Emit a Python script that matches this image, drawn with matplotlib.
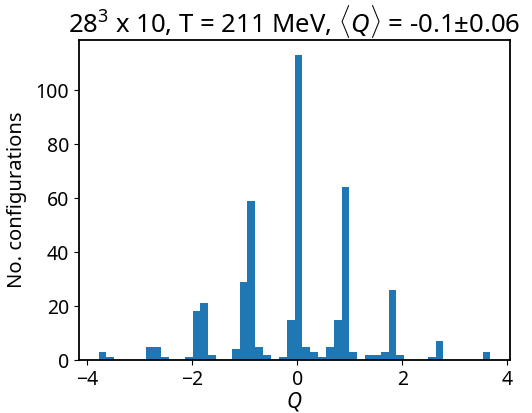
import numpy as np
import matplotlib
matplotlib.use("Agg")
import matplotlib.pyplot as plt

FONT = 'Noto Sans'
plt.rcParams['font.family'] = [FONT, 'DejaVu Sans']
plt.rcParams['mathtext.fontset'] = 'custom'
plt.rcParams['mathtext.rm'] = FONT
plt.rcParams['mathtext.it'] = FONT + ':style=italic'

q_min, q_max, n_bins = -3.785, 3.676, 50
counts = [3, 1, 0, 0, 0, 0, 5, 5, 1, 0,
          0, 1, 18, 21, 2, 0, 0, 4, 29, 59,
          5, 2, 0, 1, 15, 113, 5, 3, 1, 5,
          15, 64, 3, 0, 2, 2, 3, 26, 2, 0,
          0, 0, 1, 7, 0, 0, 0, 0, 0, 3]
title = r"28$^3$ x 10, T = 211 MeV, $\langle Q\rangle$ = -0.1±0.06"

edges = np.linspace(q_min, q_max, n_bins + 1)
centers = 0.5 * (edges[:-1] + edges[1:])

fig = plt.figure(figsize=(5.32, 4.13), dpi=100)
ax = fig.add_axes([79/532, 1 - 360/413, 431/532, 320/413])
ax.hist(centers, bins=edges, weights=counts, color='#1f77b4')
ax.set_title(title, fontsize=18.5, pad=4)
ax.set_xlabel(r"$Q$", fontsize=15, labelpad=0)
ax.set_ylabel("No. configurations", fontsize=14.5, labelpad=6)
ax.tick_params(labelsize=14)
for s in ax.spines.values():
    s.set_linewidth(1.3)
fig.savefig("out.png", dpi=100)
